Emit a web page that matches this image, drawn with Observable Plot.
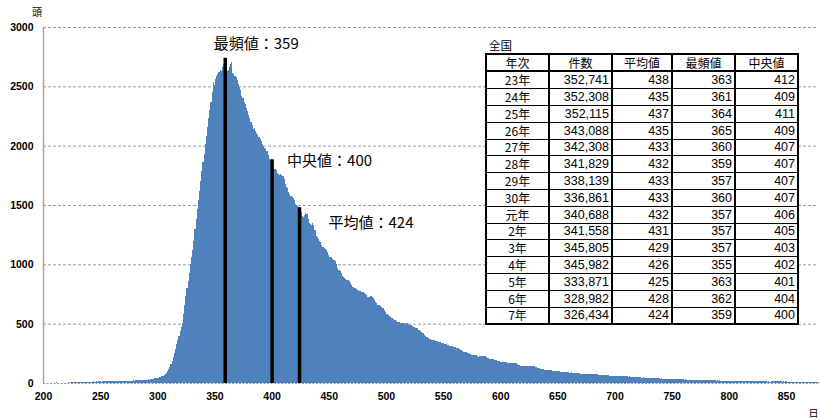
<!DOCTYPE html>
<html><head><meta charset="utf-8">
<script src="https://cdn.jsdelivr.net/npm/d3@7"></script>
<script src="https://cdn.jsdelivr.net/npm/@observablehq/plot@0.6"></script>
<style>
body{margin:0;background:#fff;}
#wrap{position:relative;width:820px;height:420px;overflow:hidden;}
#ttl{position:absolute;left:489px;top:38px;font:11.5px "Noto Sans CJK JP",sans-serif;color:#000;line-height:14px;}
#tbl{position:absolute;left:485px;top:53px;border-collapse:collapse;table-layout:fixed;background:#fff;
  font-family:"Liberation Sans","Noto Sans CJK JP",sans-serif;font-size:12.5px;color:#000;border:2px solid #000;}
#tbl th,#tbl td{padding:0 3px;height:15.8px;line-height:14px;font-weight:normal;white-space:nowrap;
  border-left:2px solid #000;border-right:2px solid #000;border-bottom:1px solid #000;}
#tbl th{border-bottom:2px solid #000;text-align:center;height:15.4px;font-family:"Noto Sans CJK JP",sans-serif;font-size:12px;}
#tbl td.c{text-align:center;font-family:"Noto Sans CJK JP",sans-serif;font-size:12px;}
#tbl td.r{text-align:right;padding-right:2px;}
</style></head>
<body><div id="wrap"></div>
<script>
// ---- data ----
const startDay = 200;
const counts = [
0,0,0,0,0,0,0,0,0,0,
0,0,6,0,0,0,0,0,0,0,
0,0,8,0,9,10,8,9,10,9,
10,9,11,10,9,11,10,12,11,10,
11,12,10,12,13,11,12,13,12,14,
13,12,14,13,15,14,13,15,16,14,
15,16,14,17,16,15,17,18,16,17,
18,17,19,18,20,19,18,21,20,22,
21,23,22,24,23,25,26,24,27,28,
27,29,30,29,31,33,34,36,38,40,
42,45,48,52,57,62,68,76,86,98,
114,134,158,186,215,250,288,325,365,400,
434,468,504,580,660,730,800,860,930,1000,
1060,1120,1200,1300,1380,1470,1540,1620,1700,1790,
1860,1930,2010,2080,2160,2230,2300,2370,2450,2540,
2510,2560,2590,2600,2620,2640,2630,2660,2690,2740,
2650,2630,2640,2660,2690,2705,2610,2600,2590,2575,
2550,2520,2495,2470,2420,2400,2370,2350,2320,2290,
2260,2230,2200,2170,2140,2150,2120,2110,2090,2070,
2060,2040,2010,2000,1980,1970,1955,1920,1890,1880,
1885,1850,1820,1800,1795,1770,1760,1755,1760,1750,
1748,1720,1680,1655,1640,1610,1595,1580,1570,1555,
1540,1510,1500,1490,1480,1460,1440,1410,1400,1415,
1430,1420,1380,1350,1340,1335,1345,1330,1290,1240,
1230,1210,1195,1185,1160,1150,1140,1130,1120,1100,
1080,1065,1060,1045,1035,1035,1030,1000,965,955,
940,925,900,893,885,880,870,865,858,840,
825,812,808,800,790,785,780,778,772,770,
767,760,748,738,728,725,722,730,726,720,
700,685,670,658,655,645,638,632,628,615,
600,585,572,565,558,550,545,540,532,525,
518,516,512,508,505,502,504,500,503,502,
498,490,485,478,474,470,466,462,460,450,
440,432,425,418,405,395,385,377,372,368,
365,363,360,356,352,350,349,345,342,338,
335,332,328,325,322,320,316,312,309,307,
304,300,296,293,288,282,276,270,265,262,
258,254,251,248,244,240,237,235,240,236,
228,223,226,230,228,226,224,225,220,214,
210,206,203,200,199,197,194,190,186,182,
180,181,179,178,177,175,172,170,172,170,
169,170,168,169,165,160,155,150,146,143,
141,140,141,142,140,141,143,140,141,142,
141,138,134,130,126,122,119,116,114,112,
112,110,108,109,107,106,105,104,104,100,
98,97,99,95,94,96,93,93,91,92,
90,88,89,87,86,85,84,86,83,81,
80,79,80,78,77,76,77,76,75,77,
76,75,77,76,74,72,70,69,68,67,
66,65,65,64,66,64,63,62,63,62,
62,61,60,61,59,58,59,57,56,57,
56,55,54,55,53,52,53,51,50,51,
49,48,49,47,46,47,45,46,44,45,
43,44,42,41,42,40,41,39,40,38,
37,38,36,37,35,36,35,34,35,33,
35,34,32,33,31,32,31,30,31,30,
30,29,30,28,29,28,27,28,27,26,
27,26,27,25,26,25,26,24,25,24,
26,25,24,25,23,24,22,23,22,21,
22,21,22,20,21,20,21,19,20,19,
20,19,18,19,18,17,18,17,18,17,
16,17,16,17,16,15,16,15,16,15,
16,15,14,15,14,15,14,13,14,13,
14,13,14,13,12,13,12,13,14,15,
16,15,16,14,15,13,14,12,13,12,
13,12,11,12,11,12,11,10,11,10,
11,10,11,10,9,10,9,10,11,10,
9,10,9,10,9,8,9,8,9
];
const xTicks = [200,250,300,350,400,450,500,550,600,650,700,750,800,850];
const yTicks = [0,500,1000,1500,2000,2500,3000];
const statNames = ["最頻値","中央値","平均値"];
const statDays = [359,400,424];
const yLabel = "頭";
const xLabel = "日";

const tableTitle = "全国";
const tableHeaders = ["年次","件数","平均値","最頻値","中央値"];
const tableYears = ["23年","24年","25年","26年","27年","28年","29年","30年","元年","2年","3年","4年","5年","6年","7年"];
const tableCounts = ["352,741","352,308","352,115","343,088","342,308","341,829","338,139","336,861","340,688","341,558","345,805","345,982","333,871","328,982","326,434"];
const tableMeans = [438,435,437,435,433,432,433,433,432,431,429,426,425,428,424];
const tableModes = [363,361,364,365,360,359,357,360,357,357,357,355,363,362,359];
const tableMedians = [412,409,411,409,407,407,407,407,406,405,403,402,401,404,400];

// ---- build ----
const data = counts.map((c, i) => ({day: startDay + i, count: c})).filter(d => d.count > 0);
const stats = statNames.map((n, i) => ({name: n, day: statDays[i], count: counts[statDays[i] - startDay]}));
const labelOffsets = [[-11.5, -14], [15, 1.5], [29, 15]];
const cjk = "'Noto Sans CJK JP', sans-serif";
const blue = "#4f81bd";

const chart = Plot.plot({
  width: 820, height: 420,
  marginTop: 27, marginBottom: 37, marginLeft: 43, marginRight: 2,
  style: {fontFamily: "'Liberation Sans', Arial, sans-serif", background: "transparent", overflow: "visible"},
  x: {domain: [200, 878]},
  y: {domain: [0, 3000]},
  marks: [
    Plot.ruleY(yTicks.filter(t => t > 0), {stroke: "#999", strokeOpacity: 1, strokeDasharray: "3,2", strokeWidth: 1}),
    Plot.rectY(data, {x1: d => d.day - 0.5, x2: d => d.day + 0.5, y1: 0, y2: "count", fill: blue, shapeRendering: "crispEdges"}),
    Plot.ruleY([0], {stroke: "#999", strokeOpacity: 1, strokeDasharray: "2,1.5", strokeWidth: 1}),
    Plot.ruleX([200], {stroke: "#a6a6a6", strokeWidth: 1.5}),
    Plot.ruleX(stats, {x: "day", y1: 0, y2: "count", stroke: "#000", strokeWidth: 3.5}),
    Plot.axisY(yTicks, {tickSize: 0, tickPadding: 10, fontSize: 10.5, fontWeight: "bold", fill: "#000", label: null, tickFormat: d => String(d)}),
    Plot.axisX(xTicks, {tickSize: 0, tickPadding: 9, fontSize: 10.5, fontWeight: "bold", fill: "#000", label: null, tickFormat: d => String(d)}),
    ...stats.map((s, i) => Plot.text([s], {
      x: "day", y: "count", text: d => `${d.name}：${d.day}`,
      dx: labelOffsets[i][0], dy: labelOffsets[i][1],
      textAnchor: "start", lineAnchor: "middle", fontSize: 15, fontFamily: cjk, fill: "#000"
    })),
    Plot.text([yLabel], {frameAnchor: "top-left", dx: -6.5, dy: -14.5, textAnchor: "middle", lineAnchor: "middle", fontSize: 10, fontFamily: cjk, fill: "#000"}),
    Plot.text([xLabel], {frameAnchor: "bottom-right", dx: -10, dy: 30, textAnchor: "start", lineAnchor: "middle", fontSize: 10, fontFamily: cjk, fill: "#000"})
  ]
});

const wrap = document.getElementById("wrap");
wrap.appendChild(chart);

const ttl = document.createElement("div");
ttl.id = "ttl"; ttl.textContent = tableTitle;
wrap.appendChild(ttl);

const colW = [63, 63, 60, 63, 63];
const tbl = d3.select(wrap).append("table").attr("id", "tbl");
const cg = tbl.append("colgroup");
colW.forEach(w => cg.append("col").style("width", w + "px"));
tbl.append("thead").append("tr").selectAll("th").data(tableHeaders).join("th").text(d => d);
const rows = tableYears.map((y, i) => [y, tableCounts[i], tableMeans[i], tableModes[i], tableMedians[i]]);
tbl.append("tbody").selectAll("tr").data(rows).join("tr")
  .selectAll("td").data(r => r).join("td")
  .attr("class", (d, j) => j === 0 ? "c" : "r").text(d => d);
</script>
</body></html>
